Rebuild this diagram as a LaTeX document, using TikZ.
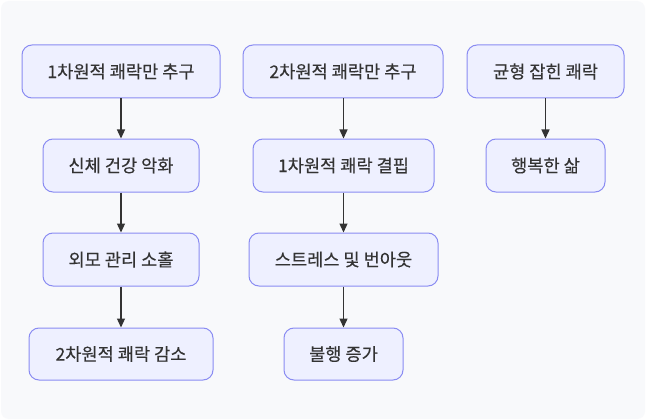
\documentclass[tikz,border=0pt]{standalone}
\usepackage{fontspec}
\setmainfont[FakeBold=0.35]{Noto Sans CJK KR}
\usetikzlibrary{arrows.meta}
\definecolor{bgc}{HTML}{F8F9FB}
\definecolor{nfill}{HTML}{EEF0FF}
\definecolor{nstroke}{HTML}{8A8CF2}
\definecolor{txt}{HTML}{333333}
\tikzset{
  box/.style={draw=nstroke, fill=nfill, line width=1pt, rounded corners=10pt,
    minimum height=53pt, inner sep=0pt, text=txt, font=\fontsize{17.6pt}{20pt}\selectfont},
  conn/.style={draw=txt, line width=1.3pt, -{Triangle[length=9pt,width=8pt]}}
}
\begin{document}
\begin{tikzpicture}[x=1pt,y=-1pt]
\useasboundingbox (0,0) rectangle (646,420);
\fill[white] (0,0) rectangle (646,420);
\fill[bgc, rounded corners=8pt] (1,1) rectangle (645,419);
% column 1
\node[box, minimum width=198pt] (a1) at (121,71.5) {1차원적 쾌락만 추구};
\node[box, minimum width=156pt] (a2) at (121,165.5) {신체 건강 악화};
\node[box, minimum width=156pt] (a3) at (121,259.5) {외모 관리 소홀};
\node[box, minimum width=184pt, minimum height=52pt] (a4) at (121,354) {2차원적 쾌락 감소};
% column 2
\node[box, minimum width=200pt] (b1) at (343,71.5) {2차원적 쾌락만 추구};
\node[box, minimum width=181pt] (b2) at (343.5,165.5) {1차원적 쾌락 결핍};
\node[box, minimum width=189pt] (b3) at (343.5,259.5) {스트레스 및 번아웃};
\node[box, minimum width=119pt, minimum height=52pt] (b4) at (343.5,354) {불행 증가};
% column 3
\node[box, minimum width=157pt] (c1) at (545.5,71.5) {균형 잡힌 쾌락};
\node[box, minimum width=119pt] (c2) at (545.5,165.5) {행복한 삶};
% connectors
\draw[conn] (a1) -- (a2);
\draw[conn] (a2) -- (a3);
\draw[conn] (a3) -- (a4);
\draw[conn] (b1.south -| b2) -- (b2);
\draw[conn] (b2) -- (b3);
\draw[conn] (b3) -- (b4);
\draw[conn] (c1) -- (c2);
\end{tikzpicture}
\end{document}
